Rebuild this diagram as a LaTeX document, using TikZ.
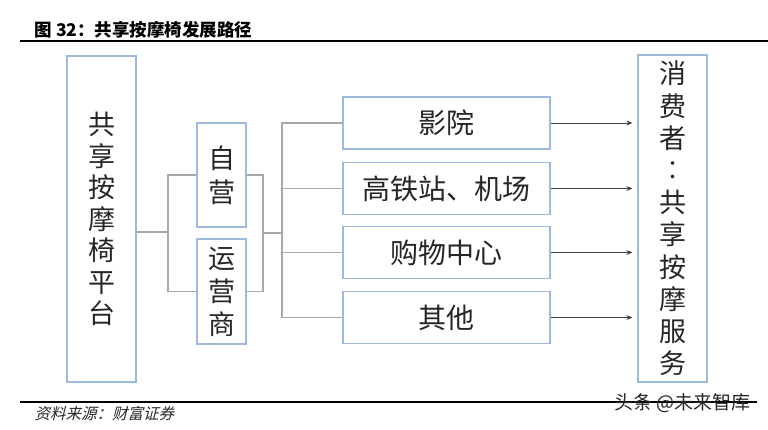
\documentclass[tikz,border=0pt]{standalone}
\usepackage{fontspec}
\newfontfamily\cjk{Noto Sans CJK SC}
\newfontfamily\cjkslant[FakeSlant=0.25]{Noto Sans CJK SC}
\usetikzlibrary{arrows.meta}
\definecolor{boxblue}{HTML}{9DB9DC}
\definecolor{linkgray}{HTML}{A8A8A8}
\definecolor{arrowgray}{HTML}{404040}
\definecolor{textgray}{HTML}{262626}

\begin{document}
\begin{tikzpicture}[x=1pt,y=-1pt, >={Stealth[length=6pt,width=5pt]},
    block/.style={draw=boxblue, line width=1.2pt, inner sep=0pt,
        align=center, text=textgray},
    site/.style={block, minimum width=207pt, minimum height=52pt,
        font=\cjk\fontsize{28}{28}\selectfont},
    link/.style={draw=linkgray, line width=1.2pt},
    feed/.style={->, draw=arrowgray, line width=0.9pt, shorten >=5pt},
    rule/.style={line width=2pt}]

    \useasboundingbox (0,0) rectangle (768,429);

    \node[anchor=west, font=\cjk\bfseries\fontsize{17.5}{17.5}\selectfont] (title) at (31,30) {图 32：共享按摩椅发展路径};
    \draw[rule] (20,41) -- (768,41);

    \node[block, minimum width=69pt, minimum height=326pt,
        font=\cjk\fontsize{27}{31.5}\selectfont] (plat) at (101.5,219) {共\\享\\按\\摩\\椅\\平\\台};
    \node[block, minimum width=49pt, minimum height=104pt,
        font=\cjk\fontsize{27}{34}\selectfont] (self) at (221.5,175) {自\\营};
    \node[block, minimum width=49pt, minimum height=105pt,
        font=\cjk\fontsize{27}{33}\selectfont] (oper) at (221.5,291.5) {运\\营\\商};

    \node[site] (cin)  at (446.5,123)   {影院};
    \node[site] (rail) at (446.5,188.5) {高铁站、机场};
    \node[site] (mall) at (446.5,252.5) {购物中心};
    \node[site] (oth)  at (446.5,317.5) {其他};

    \node[block, minimum width=69pt, minimum height=327pt,
        font=\cjk\fontsize{27}{32.2}\selectfont] (cons) at (672.5,218.5) {消\\费\\者\\︰\\共\\享\\按\\摩\\服\\务};

    \coordinate (sp1) at (168,232);
    \coordinate (sp2) at (263,233);
    \coordinate (sp3) at (282,233);

    \draw[link] (plat.east |- sp1) -- (sp1);
    \draw[link] (self.west) -| (sp1) |- (oper.west);
    \draw[link] (self.east) -| (sp2) |- (oper.east);
    \draw[link] (sp2) -- (sp3);
    \draw[link] (cin.west) -| (sp3) |- (oth.west);
    \draw[link] (sp3) |- (rail.west);
    \draw[link] (sp3) |- (mall.west);

    \draw[feed] (cin.east)  -- (cin.east -| cons.west);
    \draw[feed] (rail.east) -- (rail.east -| cons.west);
    \draw[feed] (mall.east) -- (mall.east -| cons.west);
    \draw[feed] (oth.east)  -- (oth.east -| cons.west);

    \draw[rule] (20,402) -- (757,402);
    \node[anchor=west, font=\cjkslant\fontsize{15.5}{15.5}\selectfont, text=textgray] (src) at (31,414) {资料来源：财富证券};
    \node[anchor=west, font=\cjk\fontsize{19}{19}\selectfont, text=textgray] (mark) at (611,403) {头条 @未来智库};
  \end{tikzpicture}
\end{document}
